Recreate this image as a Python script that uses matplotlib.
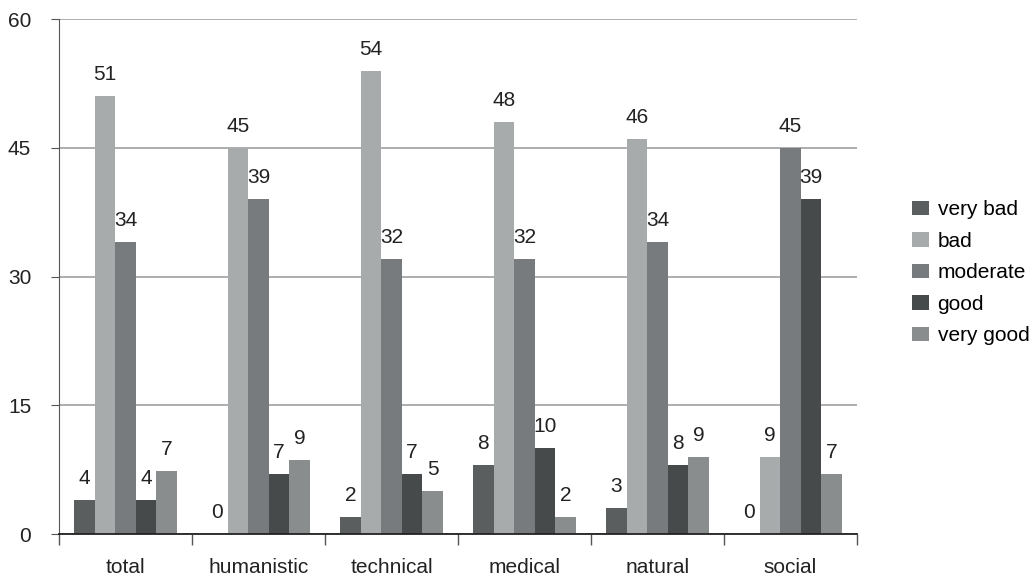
import numpy as np
import matplotlib
matplotlib.use("Agg")
import matplotlib.pyplot as plt

plt.rcParams["font.family"] = ["Liberation Sans", "DejaVu Sans"]

categories = ["total", "humanistic", "technical", "medical", "natural", "social"]
series_names = ["very bad", "bad", "moderate", "good", "very good"]
very_bad = [4, 0, 2, 8, 3, 0]
bad = [51, 45, 54, 48, 46, 9]
moderate = [34, 39, 32, 32, 34, 45]
good = [4, 7, 7, 10, 8, 39]
very_good = [7.3, 8.6, 5, 2, 9, 7]
series = [very_bad, bad, moderate, good, very_good]
colors = ["#5a5e5f", "#a7abac", "#777b7e", "#464a4b", "#8a8d8e"]

FS = 15

fig = plt.figure(figsize=(10.33, 5.79), dpi=100)
ax = fig.add_axes([0.0571, 0.0777, 0.7725, 0.889])

x = np.arange(len(categories))
width = 0.155
for i, (name, vals, c) in enumerate(zip(series_names, series, colors)):
    pos = x + (i - 2) * width
    ax.bar(pos, vals, width, color=c, label=name, zorder=2)
    for px, v in zip(pos, vals):
        ax.text(px, v + 1.4, f"{v:.0f}", ha="center", va="bottom",
                fontsize=FS, color="#222222", zorder=3)

ax.set_xlim(-0.5, len(categories) - 0.5)
ax.set_ylim(0, 60)
ax.set_yticks([0, 15, 30, 45, 60])
ax.grid(axis="y", color="#a0a0a0", linewidth=1.2, zorder=0)
ax.set_xticks(np.arange(-0.5, len(categories)), minor=False)
ax.set_xticklabels([])
ax.set_xticks(x, minor=True)
ax.set_xticklabels(categories, minor=True)
ax.tick_params(axis="x", which="minor", length=0, labelsize=FS, pad=17, colors="#222222")
ax.tick_params(axis="x", which="major", length=8, color="#555555", width=1)
ax.tick_params(axis="y", length=6, color="#555555", labelsize=FS, labelcolor="#222222", pad=14)

for s in ["top", "right"]:
    ax.spines[s].set_visible(False)
ax.spines["left"].set_color("#555555")
ax.spines["bottom"].set_color("#222222")
ax.spines["bottom"].set_linewidth(1.3)

fig.legend(*ax.get_legend_handles_labels(), loc="center left",
           bbox_to_anchor=(0.883, 0.529), frameon=False, borderpad=0,
           borderaxespad=0, fontsize=FS, handlelength=0.82, handleheight=0.72,
           handletextpad=0.4, labelspacing=0.6)

fig.savefig("out.png", dpi=100)
